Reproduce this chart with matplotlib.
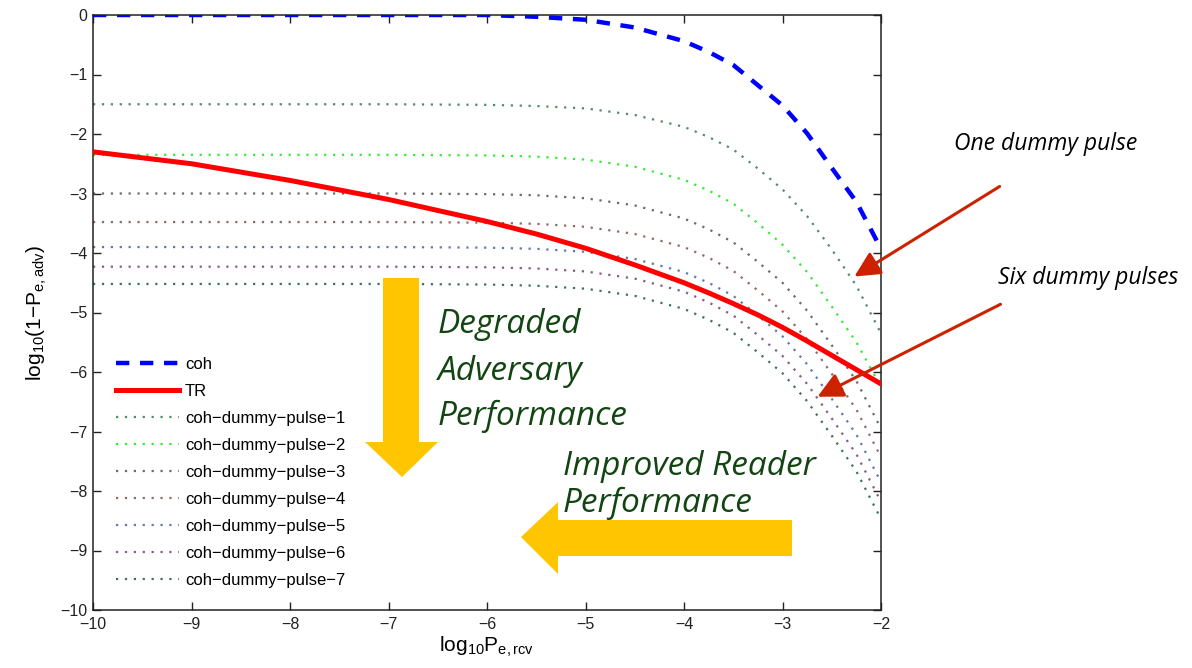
import matplotlib
matplotlib.use("Agg")
import matplotlib.pyplot as plt
from matplotlib.patches import Polygon, FancyArrowPatch

plt.rcParams['font.family'] = ['Liberation Sans', 'DejaVu Sans']
plt.rcParams['mathtext.fontset'] = 'custom'
plt.rcParams['mathtext.rm'] = 'Liberation Sans'
plt.rcParams['mathtext.it'] = 'Liberation Sans:italic'

# ---- data ----
x_vals = [-10, -9, -8, -7, -6, -5.5, -5, -4.5, -4, -3.75, -3.5, -3.25, -3, -2.75, -2.5, -2.25, -2]
coh = [0, 0, 0, 0, 0, -0.03, -0.08, -0.21, -0.44, -0.62, -0.84, -1.18, -1.52, -1.99, -2.57, -3.14, -3.93]
tr = [-2.3, -2.5, -2.78, -3.1, -3.47, -3.68, -3.92, -4.2, -4.5, -4.67, -4.85, -5.04, -5.25, -5.48, -5.72, -5.96, -6.2]
dp1 = [-1.5, -1.5, -1.5, -1.5, -1.51, -1.53, -1.57, -1.68, -1.88, -2.05, -2.26, -2.58, -2.93, -3.38, -3.94, -4.55, -5.35]
dp2 = [-2.35, -2.35, -2.35, -2.35, -2.36, -2.38, -2.43, -2.55, -2.77, -2.95, -3.17, -3.5, -3.86, -4.32, -4.9, -5.5, -6.25]
dp3 = [-3.0, -3.0, -3.0, -3.0, -3.01, -3.03, -3.08, -3.2, -3.42, -3.6, -3.82, -4.15, -4.5, -4.97, -5.55, -6.15, -6.95]
dp4 = [-3.48, -3.48, -3.48, -3.48, -3.49, -3.51, -3.56, -3.68, -3.9, -4.08, -4.3, -4.63, -4.98, -5.45, -6.03, -6.63, -7.43]
dp5 = [-3.9, -3.9, -3.9, -3.9, -3.91, -3.93, -3.98, -4.1, -4.32, -4.5, -4.72, -5.05, -5.4, -5.87, -6.45, -7.05, -7.85]
dp6 = [-4.23, -4.23, -4.23, -4.23, -4.24, -4.26, -4.31, -4.43, -4.65, -4.83, -5.05, -5.38, -5.73, -6.2, -6.78, -7.38, -8.18]
dp7 = [-4.52, -4.52, -4.52, -4.52, -4.53, -4.55, -4.6, -4.72, -4.94, -5.12, -5.34, -5.67, -6.02, -6.49, -7.07, -7.67, -8.47]

dummy_series = [dp1, dp2, dp3, dp4, dp5, dp6, dp7]
dummy_labels = ['coh\u2212dummy\u2212pulse\u2212%d' % i for i in range(1, 8)]
dummy_colors = ['#3f7f5a', '#1ee81e', '#5a5a5a', '#8a5858', '#4d6aa8', '#7a4a7a', '#2a6444']

x_ticks = [-10, -9, -8, -7, -6, -5, -4, -3, -2]
y_ticks = [0, -1, -2, -3, -4, -5, -6, -7, -8, -9, -10]

W, H = 1192, 668
fig = plt.figure(figsize=(W / 100, H / 100), dpi=100)
ax = fig.add_axes([93 / W, 1 - 610 / H, (881 - 93) / W, (610 - 15) / H])

ax.plot(x_vals, coh, color='#0000ff', lw=3.2, dashes=(3, 2.4), label='coh', zorder=3)
ax.plot(x_vals, tr, color='#ff0000', lw=3.6, label='TR', zorder=4)
for ser, lab, col in zip(dummy_series, dummy_labels, dummy_colors):
    ax.plot(x_vals, ser, color=col, lw=1.6, dashes=(1, 3.0), label=lab, alpha=0.9, zorder=2)

ax.set_xlim(-10, -2)
ax.set_ylim(-10, 0)
ax.set_xticks(x_ticks)
ax.set_yticks(y_ticks)
ax.tick_params(direction='in', length=6, width=1, top=True, right=True,
               labelsize=11.5, colors='#222222')
ax.tick_params(axis='x', pad=5)
ax.tick_params(axis='y', pad=4)
for s in ax.spines.values():
    s.set_linewidth(1.1)
    s.set_color('#222222')

ax.set_xlabel(r'$\mathrm{log}_{10}\mathrm{P}_{\mathrm{e,rcv}}$', fontsize=15, labelpad=2)
ax.set_ylabel(r'$\mathrm{log}_{10}(1\mathrm{-P}_{\mathrm{e,adv}})$', fontsize=15, labelpad=8)

leg = ax.legend(loc='upper left', bbox_to_anchor=(0.029, 0.425), frameon=False,
                fontsize=12, handlelength=3.8, handletextpad=0.35,
                labelspacing=0.72, borderaxespad=0, borderpad=0)

# ---- annotation overlay in pixel coordinates ----
ov = fig.add_axes([0, 0, 1, 1], facecolor='none')
ov.set_xlim(0, W)
ov.set_ylim(H, 0)
ov.axis('off')

yellow = '#ffc600'
down_arrow = [(383, 278), (419, 278), (419, 442), (438, 442), (402, 477),
              (365, 442), (383, 442)]
left_arrow = [(792, 520), (792, 556), (558, 556), (558, 574), (521, 537),
              (558, 502), (558, 520)]
ov.add_patch(Polygon(down_arrow, closed=True, facecolor=yellow, edgecolor='none', zorder=5))
ov.add_patch(Polygon(left_arrow, closed=True, facecolor=yellow, edgecolor='none', zorder=5))

green = '#124512'
big = dict(fontsize=24, fontstyle='italic', family='Open Sans', color=green,
           ha='left', va='baseline', zorder=6)
ov.text(438, 333, 'Degraded', **big)
ov.text(438, 380, 'Adversary', **big)
ov.text(438, 425, 'Performance', **big)
ov.text(563, 475, 'Improved Reader', **big)
ov.text(563, 512, 'Performance', **big)

small = dict(fontsize=16.5, fontstyle='italic', family='Open Sans', color='black',
             ha='left', va='baseline', zorder=6)
ov.text(954, 150, 'One dummy pulse', **small)
ov.text(998, 284, 'Six dummy pulses', **small)

red = '#cc2200'
for (x0, y0), (x1, y1) in [((1002, 185), (852, 278)), ((1003, 303), (815, 398))]:
    ov.add_patch(FancyArrowPatch((x0, y0), (x1, y1), arrowstyle='-|>,head_length=0.7,head_width=0.35',
                                 mutation_scale=22, color=red, lw=2.2, zorder=6))

fig.savefig('out.png', dpi=100, facecolor='white')
